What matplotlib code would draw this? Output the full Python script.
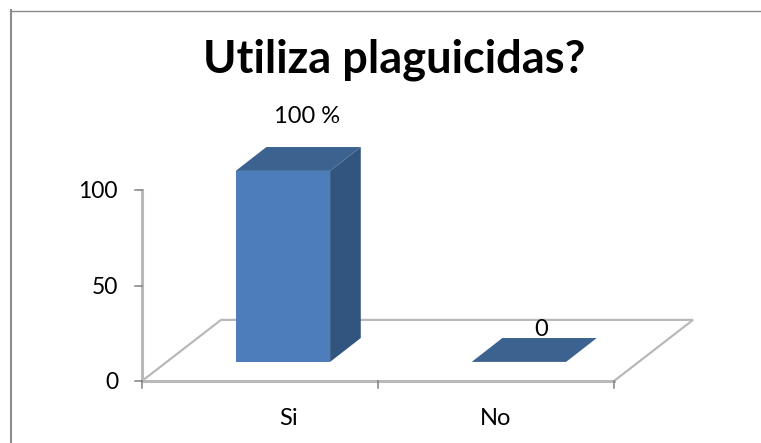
import matplotlib
matplotlib.use("Agg")
from matplotlib import pyplot as plt
from matplotlib.patches import Polygon, Rectangle

W = 761
H = 443
# pixel position of the value/category origin and scale of the plot
X0 = 142
Y0 = 381
CAT_PX = 236
VAL_PX = 1.91

TITLE = "Utiliza plaguicidas?"
categories = ["Si", "No"]
category_x = [0.62, 1.5]
values = [100, 0]
value_labels = ["100 %", "0"]
y_ticks = [0, 50, 100]

plt.rcParams["font.family"] = "Lato"

fig = plt.figure(figsize=(W / 100, H / 100), dpi=100)
ax = fig.add_axes([0, 0, 1, 1])
ax.set_xlim(-X0 / CAT_PX, (W - X0) / CAT_PX)
ax.set_ylim(-(H - Y0) / VAL_PX, Y0 / VAL_PX)
ax.axis("off")

fx = lambda p: (p - X0) / CAT_PX
fy = lambda p: (Y0 - p) / VAL_PX

# chart frame, only left and top are visible in the crop
ax.plot([fx(11), fx(11)], [fy(443), fy(10)], color="#8c8c8c", lw=1.5, zorder=1)
ax.plot([fx(10), fx(761)], [fy(10.5), fy(10.5)], color="#8c8c8c", lw=1.0, zorder=1)

# 3d floor
FLOOR_DX = 0.335
FLOOR_DY = 32
n = len(categories)
floor_col = "#b9b9b9"
ax.plot([0, FLOOR_DX, n + FLOOR_DX, n], [0, FLOOR_DY, FLOOR_DY, 0],
        color=floor_col, lw=1.6, zorder=2, solid_joinstyle="miter")
ax.plot([0, n], [0, 0], color=floor_col, lw=2.2, zorder=2)

# axes and ticks
ax.plot([0, 0], [0, max(y_ticks)], color=floor_col, lw=2.2, zorder=2)
for t in y_ticks:
    ax.plot([-7 / CAT_PX, 0], [t, t], color="#808080", lw=1.1, zorder=2)
    ax.text(-24 / CAT_PX, t - 1, str(t), ha="right", va="center", fontsize=16.5, color="black")
for i in range(n + 1):
    ax.plot([i, i], [0, -7 / VAL_PX], color="#808080", lw=1.1, zorder=2)
for x, c in zip(category_x, categories):
    ax.text(x, -44 / VAL_PX, c, ha="center", va="baseline", fontsize=17, color="black")

# bars
BAR_W = 0.4
OFF_X = 0.097
OFF_Y = 10
DEP_X = 0.13
DEP_Y = 12.5
for i, v in enumerate(values):
    l = i + 0.5 - BAR_W / 2 + OFF_X
    r = l + BAR_W
    b = OFF_Y
    t = OFF_Y + v
    ax.add_patch(Polygon([(r, b), (r + DEP_X, b + DEP_Y), (r + DEP_X, t + DEP_Y), (r, t)],
                         fc="#31557e", ec="none", zorder=3))
    ax.add_patch(Polygon([(l, t), (l + DEP_X, t + DEP_Y), (r + DEP_X, t + DEP_Y), (r, t)],
                         fc="#3c6390", ec="none", zorder=4))
    if v > 0:
        ax.add_patch(Rectangle((l, b), BAR_W, v, fc="#4d7ebb", ec="none", zorder=5))

# value labels
ax.text(0.7, 138.5, value_labels[0], ha="center", va="center", fontsize=17, color="black", zorder=6)
ax.text(1.69, 27, value_labels[1], ha="center", va="center", fontsize=17, color="black", zorder=6)

ax.text(fx(394), fy(60), TITLE, ha="center", va="center", fontsize=32.5, fontweight="bold", color="black")

fig.savefig("out.png", dpi=100)
